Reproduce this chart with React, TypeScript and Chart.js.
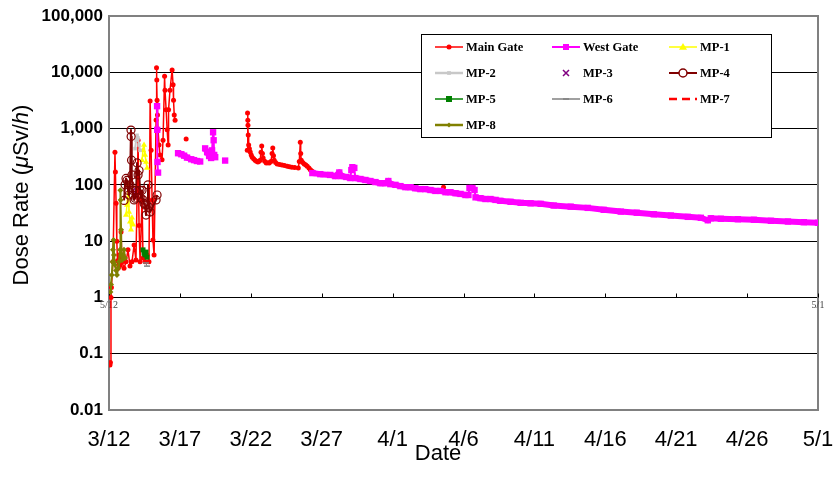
import React, { useEffect, useRef } from 'react';
import { Chart, registerables } from 'chart.js';

Chart.register(...registerables);

// x = days since 3/12 00:00, y = dose rate (μSv/h); null = break in the line
type Pt = [number, number | null];

const X_TICK_LABELS = ['3/12', '3/17', '3/22', '3/27', '4/1', '4/6', '4/11', '4/16', '4/21', '4/26', '5/1'];
const Y_TICK_VALUES = [0.01, 0.1, 1, 10, 100, 1000, 10000, 100000];
const Y_TICK_LABELS = ['0.01', '0.1', '1', '10', '100', '1,000', '10,000', '100,000'];
const SUB_TICK_DAYS = [0, 5, 10, 15, 20, 25, 30, 35, 40, 45, 50];
const SUB_TICK_LABELS: [number, string][] = [[0, '5/12'], [50, '5/1']];

const SERIES_LABELS = ['Main Gate', 'West Gate', 'MP-1', 'MP-2', 'MP-3', 'MP-4', 'MP-5', 'MP-6', 'MP-7', 'MP-8'];

const MAIN_GATE: Pt[] = [
  [0.07, 0.063], [0.1, 0.07], [0.14, 1.0], [0.17, 1.5], [0.28, 4.3], [0.42, 380], [0.45, 170], [0.5, 47],
  [0.55, 10], [0.6, 4.5], [0.65, 3.3], [0.7, 5.7], [0.78, 3.7], [0.85, 14.6], [0.92, 4.3], [1.06, 3.3],
  [1.2, 4.3], [1.34, 7], [1.48, 3.6], [1.62, 4.3], [1.77, 8.5], [1.9, 4.6], [2.05, 620], [2.12, 19],
  [2.19, 4.3], [2.33, 54], [2.4, 5], [2.54, 4.3], [2.68, 5.7], [2.82, 4.3], [2.9, 3100], [2.97, 410],
  [3.04, 54], [3.1, 10.5], [3.18, 5.7], [3.32, 1420], [3.35, 12000], [3.37, 7300], [3.39, 3200],
  [3.42, 1750], [3.46, 950], [3.53, 510], [3.6, 340], [3.74, 280], [3.81, 620], [3.92, 8500],
  [3.95, 4800], [4.03, 2150], [4.1, 950], [4.17, 510], [4.2, 2150], [4.3, 4800], [4.45, 11000],
  [4.52, 6000], [4.55, 3200], [4.6, 1750], [4.66, 1400], [5.0, null], [5.44, 650], [6, null],
  [9.75, 410], [9.77, 1900], [9.79, 1400], [9.8, 1150], [9.82, 770], [9.85, 510], [9.9, 440], [9.96, 385],
  [10.03, 340], [10.1, 310], [10.2, 290], [10.3, 275], [10.4, 262], [10.5, 255], [10.58, 262], [10.66, 275],
  [10.72, 380], [10.77, 490], [10.82, 360], [10.87, 300], [10.98, 262], [11.09, 245], [11.2, 248],
  [11.3, 245], [11.42, 260], [11.5, 360], [11.55, 450], [11.6, 330], [11.65, 275], [11.75, 250],
  [11.86, 235], [12.03, 230], [12.2, 225], [12.38, 220], [12.57, 215], [12.73, 210], [12.9, 205],
  [13.1, 203], [13.35, 200], [13.42, 260], [13.49, 570], [13.52, 360], [13.56, 275], [13.66, 250],
  [13.77, 235], [13.88, 225], [13.98, 215], [14.1, 200], [14.2, 185], [14.3, 176], [14.4, 170], [15, null],
  [23.59, 91],
];

const WEST_GATE: Pt[] = [
  [3.39, 2500], [3.4, 950], [3.42, 255], [3.46, 165], [4, null],
  [4.87, 365], [5.1, 350], [5.3, 330], [5.5, 305], [5.8, 285], [6.0, 275], [6.2, 265], [6.43, 260], [6.6, null],
  [6.78, 445], [6.92, 380], [7.06, 325], [7.2, 300], [7.27, 410], [7.34, 860], [7.38, 620], [7.42, 340],
  [7.49, 310], [7.8, null], [8.19, 270], [9, null],
  [14.34, 162], [14.9, 155], [15.6, 150], [15.96, 143], [16.24, 166], [16.38, 143], [16.74, 138],
  [17.02, 132], [17.09, 183], [17.16, 206], [17.3, 200], [17.37, 132], [17.73, 127], [18.08, 122],
  [18.43, 117], [18.79, 112], [19.14, 107], [19.49, 107], [19.7, 117], [19.84, 103], [20.2, 100],
  [20.55, 95], [20.9, 91], [21.26, 91], [21.6, 87], [21.96, 84], [22.3, 84], [22.67, 81], [23.02, 78],
  [23.38, 78], [23.73, 74], [24.08, 74], [24.44, 71], [24.79, 69], [25.14, 66], [25.35, 66], [25.42, 88],
  [25.63, 88], [25.78, 81], [25.85, 60], [26.2, 58], [26.55, 56], [26.9, 56], [27.26, 54], [27.6, 52],
  [28.32, 50], [29.03, 48], [29.73, 47], [30.44, 46], [31.36, 43], [32.56, 41], [33.76, 39], [34.89, 36],
  [36.09, 33.5], [37.22, 32], [38.42, 30], [39.62, 28.5], [40.82, 27], [41.74, 26], [42.23, 23.5],
  [42.44, 25.5], [43.15, 25], [44.35, 24.5], [45.48, 24], [46.68, 23], [47.88, 22.3], [49.0, 21.7],
  [50.0, 21.2],
];

const MP_1: Pt[] = [
  [1.2, 29], [1.27, 44], [1.34, 100], [1.41, 33], [1.48, 22], [1.55, 16], [1.62, 26], [1.7, 19.5],
  [2.0, null], [2.33, 275], [2.4, 410], [2.47, 510], [2.54, 340], [2.61, 255], [2.68, 200],
];
const MP_2: Pt[] = [[1.84, 440], [1.91, 620], [1.98, 760], [2.05, 680], [2.12, 510], [2.19, 410]];
const MP_3: Pt[] = [[1.7, 80], [1.84, 66]];
const MP_4: Pt[] = [
  [1.06, 53], [1.13, 100], [1.2, 130], [1.27, 120], [1.34, 80], [1.41, 66], [1.48, 100], [1.55, 940],
  [1.56, 720], [1.59, 275], [1.62, 150], [1.66, 80], [1.69, 66], [1.77, 54], [1.84, 58], [1.91, 80],
  [1.98, 245], [2.05, 150], [2.12, 180], [2.19, 80], [2.26, 58], [2.33, 80], [2.4, 54], [2.47, 47],
  [2.54, 44], [2.61, 29], [2.68, 44], [2.75, 100], [2.82, 40], [2.9, 33], [3.32, 54], [3.39, 66],
];
const MP_5: Pt[] = [[2.4, 7], [2.47, 6.1], [2.54, 5.7], [2.61, 6.4], [2.68, 5.2]];
const MP_6: Pt[] = [[2.61, 4.1], [2.68, 3.6]];
const MP_7: Pt[] = [[0.7, 4.3], [0.85, 5]];
const MP_8: Pt[] = [
  [0.1, 1.25], [0.14, 1.7], [0.2, 2.5], [0.25, 4.3], [0.28, 7], [0.32, 10.5], [0.35, 5.7], [0.42, 3.8],
  [0.5, 3], [0.56, 2.5], [0.64, 3.3], [0.7, 4.3], [0.78, 7], [0.8, 80], [0.82, 54], [0.85, 16],
  [0.86, 5.7], [0.92, 4.6], [0.99, 5.7], [1.06, 7], [1.13, 5],
];

const SERIES_DATA = [MAIN_GATE, WEST_GATE, MP_1, MP_2, MP_3, MP_4, MP_5, MP_6, MP_7, MP_8];

type Style = {
  color: string; point: string | false; r: number; lw: number; legendLw: number;
  open?: boolean; showLine?: boolean; dash?: number[]; legendR: number;
};
const STYLES: Style[] = [
  { color: '#FF0000', point: 'circle', r: 2.5, lw: 1.5, legendLw: 1.5, legendR: 2.5 },
  { color: '#FF00FF', point: 'rect', r: 4.5, lw: 6, legendLw: 2, legendR: 4 },
  { color: '#FFFF00', point: 'triangle', r: 3.5, lw: 1.5, legendLw: 1.5, legendR: 4 },
  { color: '#C8C8C8', point: 'rect', r: 2.5, lw: 2, legendLw: 2.5, legendR: 2.5 },
  { color: '#800080', point: 'crossRot', r: 3, lw: 0, legendLw: 0, showLine: false, legendR: 3 },
  { color: '#800000', point: 'circle', r: 4, lw: 2, legendLw: 2, open: true, legendR: 4 },
  { color: '#008000', point: 'rect', r: 3.5, lw: 1.5, legendLw: 1.5, legendR: 4 },
  { color: '#808080', point: 'line', r: 3, lw: 1, legendLw: 1.5, legendR: 3 },
  { color: '#FF0000', point: false, r: 0, lw: 2, legendLw: 2.5, dash: [8, 5], legendR: 0 },
  { color: '#808000', point: 'rectRot', r: 3, lw: 2, legendLw: 2.5, legendR: 2.5 },
];

const FONT = '"Liberation Sans", Arial, sans-serif';

function drawMarker(ctx: CanvasRenderingContext2D, s: Style, x: number, y: number) {
  const r = s.legendR;
  if (!s.point || r <= 0) return;
  ctx.save();
  ctx.fillStyle = s.color;
  ctx.strokeStyle = s.color;
  ctx.lineWidth = 1.5;
  ctx.setLineDash([]);
  ctx.beginPath();
  switch (s.point) {
    case 'circle':
      ctx.arc(x, y, r, 0, Math.PI * 2);
      if (s.open) { ctx.fillStyle = '#fff'; ctx.fill(); ctx.stroke(); } else ctx.fill();
      break;
    case 'rect':
      ctx.rect(x - r * 0.75, y - r * 0.75, r * 1.5, r * 1.5);
      ctx.fill();
      break;
    case 'triangle':
      ctx.moveTo(x, y - r);
      ctx.lineTo(x + r, y + r * 0.7);
      ctx.lineTo(x - r, y + r * 0.7);
      ctx.closePath();
      ctx.fill();
      break;
    case 'rectRot':
      ctx.moveTo(x, y - r); ctx.lineTo(x + r, y); ctx.lineTo(x, y + r); ctx.lineTo(x - r, y); ctx.closePath();
      ctx.fill();
      break;
    case 'crossRot':
      ctx.moveTo(x - r, y - r); ctx.lineTo(x + r, y + r); ctx.moveTo(x + r, y - r); ctx.lineTo(x - r, y + r);
      ctx.stroke();
      break;
    case 'line':
      ctx.moveTo(x - r, y); ctx.lineTo(x + r, y);
      ctx.stroke();
      break;
  }
  ctx.restore();
}

const overlayPlugin = {
  id: 'overlay',
  beforeDatasetsDraw(chart: any) {
    const { ctx, chartArea: a, scales } = chart;
    const xs = scales.x, ys = scales.y;
    ctx.save();
    ctx.strokeStyle = '#808080';
    ctx.lineWidth = 2;
    ctx.beginPath();
    ctx.moveTo(a.left, a.top);
    ctx.lineTo(a.right, a.top);
    ctx.lineTo(a.right, a.bottom);
    ctx.stroke();
    const y1 = Math.round(ys.getPixelForValue(1)) + 0.5;
    ctx.strokeStyle = '#000';
    ctx.lineWidth = 1;
    SUB_TICK_DAYS.forEach((d) => {
      const px = Math.round(xs.getPixelForValue(d)) + 0.5;
      ctx.beginPath();
      ctx.moveTo(px, y1);
      ctx.lineTo(px, y1 - 4);
      ctx.stroke();
    });
    ctx.fillStyle = '#444';
    ctx.font = '10px "Liberation Serif", serif';
    ctx.textAlign = 'center';
    ctx.textBaseline = 'middle';
    SUB_TICK_LABELS.forEach(([d, t]) => ctx.fillText(t, xs.getPixelForValue(d), y1 + 8));
    ctx.restore();
  },
  afterDatasetsDraw(chart: any) {
    const { ctx } = chart;
    ctx.save();
    const L = { left: 421, top: 34, w: 350, h: 103 };
    ctx.fillStyle = '#fff';
    ctx.fillRect(L.left, L.top, L.w, L.h);
    ctx.strokeStyle = '#000';
    ctx.lineWidth = 1;
    ctx.strokeRect(L.left + 0.5, L.top + 0.5, L.w, L.h);
    const cols = [435, 552, 669];
    const rows = [47, 73, 99, 125];
    SERIES_LABELS.forEach((label, i) => {
      const s = STYLES[i];
      const x0 = cols[i % 3];
      const y0 = rows[Math.floor(i / 3)];
      if (s.legendLw > 0) {
        ctx.save();
        ctx.strokeStyle = s.color;
        ctx.lineWidth = s.legendLw;
        ctx.setLineDash(s.dash || []);
        ctx.beginPath();
        ctx.moveTo(x0, y0);
        ctx.lineTo(x0 + 28, y0);
        ctx.stroke();
        ctx.restore();
      }
      drawMarker(ctx, s, x0 + 14, y0);
      ctx.fillStyle = '#000';
      ctx.font = 'bold 12.5px "Liberation Serif", serif';
      ctx.textAlign = 'left';
      ctx.textBaseline = 'middle';
      ctx.fillText(label, x0 + 31, y0 + 1);
    });
    ctx.restore();
  },
  afterDraw(chart: any) {
    const { ctx } = chart;
    ctx.save();
    ctx.fillStyle = '#000';
    ctx.textBaseline = 'middle';
    ctx.textAlign = 'center';
    ctx.font = `22px ${FONT}`;
    ctx.fillText('Date', 438, 454);
    const parts: [string, boolean][] = [['Dose Rate (', false], ['μ', true], ['Sv/', false], ['h', true], [')', false]];
    ctx.translate(22, 195);
    ctx.rotate(-Math.PI / 2);
    ctx.textAlign = 'left';
    let total = 0;
    const widths = parts.map(([t, it]) => {
      ctx.font = `${it ? 'italic ' : ''}22px ${FONT}`;
      const w = ctx.measureText(t).width;
      total += w;
      return w;
    });
    let x = -total / 2;
    parts.forEach(([t, it], i) => {
      ctx.font = `${it ? 'italic ' : ''}22px ${FONT}`;
      ctx.fillText(t, x, 0);
      x += widths[i];
    });
    ctx.restore();
  },
};

export default function App() {
  const ref = useRef<HTMLCanvasElement>(null);
  useEffect(() => {
    const n = SERIES_DATA.length;
    const datasets = SERIES_DATA.map((pts, i) => {
      const s = STYLES[i];
      const ds: any = {
        label: SERIES_LABELS[i],
        data: pts.map(([x, y]) => ({ x, y })),
        borderColor: s.color,
        backgroundColor: s.open ? 'rgba(0,0,0,0)' : s.color,
        pointBackgroundColor: s.open ? 'rgba(0,0,0,0)' : s.color,
        pointBorderColor: s.color,
        pointStyle: s.point,
        pointRadius: s.r,
        pointBorderWidth: s.open ? 1.2 : s.point === 'crossRot' || s.point === 'line' ? 1.5 : 0,
        borderWidth: s.lw,
        showLine: s.showLine !== false,
        borderDash: s.dash || [],
        spanGaps: false,
        tension: 0,
        borderJoinStyle: 'round',
        order: n - i,
      };
      if (i === 1) {
        ds.segment = {
          borderWidth: (c: any) => (Math.abs(c.p1.parsed.x - c.p0.parsed.x) < 0.12 ? 2 : 6),
        };
      }
      return ds;
    });
    const chart = new Chart(ref.current!, {
      type: 'line',
      data: { datasets },
      options: {
        responsive: false,
        animation: false,
        layout: { padding: { left: 0, right: 15, top: 16, bottom: 0 } },
        plugins: { legend: { display: false }, tooltip: { enabled: false } },
        scales: {
          x: {
            type: 'linear',
            min: 0,
            max: 50,
            ticks: {
              stepSize: 5,
              autoSkip: false,
              maxRotation: 0,
              padding: 9,
              color: '#000',
              font: { family: '"Liberation Sans Narrow", "Arial Narrow", "Liberation Sans", Arial, sans-serif', size: 22 },
              callback: (v: any) => X_TICK_LABELS[Math.round(Number(v) / 5)] ?? '',
            },
            grid: { display: false },
            border: { display: true, color: '#808080', width: 2 },
            afterFit: (s: any) => { s.height = 80; s.paddingLeft = 0; s.paddingRight = 0; },
          },
          y: {
            type: 'logarithmic',
            min: 0.01,
            max: 100000,
            afterBuildTicks: (s: any) => { s.ticks = Y_TICK_VALUES.map((value) => ({ value })); },
            ticks: {
              padding: 6,
              color: '#000',
              font: { family: FONT, size: 17, weight: 'bold' },
              callback: (v: any) => {
                const idx = Y_TICK_VALUES.findIndex((t) => Math.abs(Math.log10(t) - Math.log10(Number(v))) < 1e-6);
                return idx >= 0 ? Y_TICK_LABELS[idx] : '';
              },
            },
            grid: {
              drawTicks: false,
              lineWidth: 1,
              color: (c: any) => (c.tick && c.tick.value === 100000 ? 'rgba(0,0,0,0)' : '#000'),
            },
            border: { display: true, color: '#808080', width: 2 },
            afterFit: (s: any) => { s.width = 109; s.paddingTop = 0; s.paddingBottom = 0; },
          },
        },
      },
      plugins: [overlayPlugin],
    } as any);
    return () => chart.destroy();
  }, []);
  return (
    <div style={{ position: 'absolute', left: 0, top: 0, width: 833, height: 490, background: '#fff' }}>
      <canvas ref={ref} width={833} height={490} style={{ display: 'block' }} />
    </div>
  );
}
